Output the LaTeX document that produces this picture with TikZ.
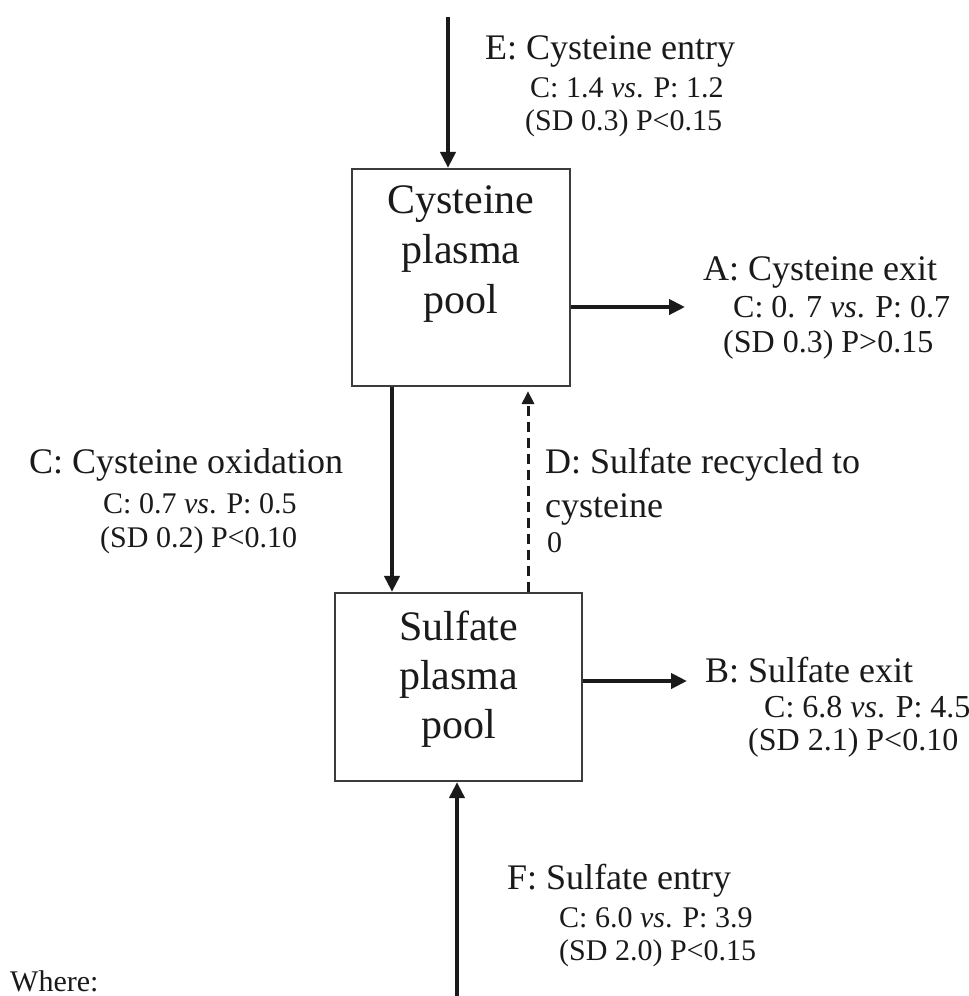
\documentclass[tikz,border=0pt]{standalone}
\usepackage{fontspec}
\setmainfont{Liberation Serif}
\usetikzlibrary{arrows.meta}
\definecolor{ink}{HTML}{1A1A1A}
\definecolor{rim}{HTML}{3C3C3C}
\begin{document}
\begin{tikzpicture}[x=1pt,y=-1pt,
  pool/.style={draw=rim, line width=2.2pt, fill=white, inner sep=0pt},
  pooltxt/.style={anchor=base, font=\fontsize{42}{50}\selectfont, text=ink, inner sep=0pt},
  head/.style={anchor=base west, font=\fontsize{36}{43}\selectfont, text=ink, inner sep=0pt},
  sub/.style={anchor=base west, font=\fontsize{30}{36}\selectfont, text=ink, inner sep=0pt},
  bigsub/.style={sub, font=\fontsize{32}{38}\selectfont},
  flow/.style={draw=ink, line width=4.5pt, -{Triangle[length=16pt,width=15pt]}},
  backflow/.style={draw=ink, line width=3pt, dash pattern=on 10pt off 6pt, -{Triangle[length=13pt,width=12pt]}}
]
\useasboundingbox (0,0) rectangle (969,996);

% the two plasma pools
\node[pool, minimum width=218pt, minimum height=217pt] (cys) at (461,277.5) {};
\node[pool, minimum width=247pt, minimum height=188pt] (sul) at (458.5,687) {};

\node[pooltxt] (cys1) at (461,213) {Cysteine};
\node[pooltxt] (cys2) at (461,263) {plasma};
\node[pooltxt] (cys3) at (461,313) {pool};
\node[pooltxt] (sul1) at (458.5,640) {Sulfate};
\node[pooltxt] (sul2) at (458.5,689) {plasma};
\node[pooltxt] (sul3) at (458.5,738) {pool};

% fluxes
\coordinate (etop) at (448,17);
\draw[flow] (etop) -- (etop |- cys.north);
\coordinate (aend) at (685,307);
\draw[flow] (cys.east |- aend) -- (aend);
\coordinate (cx) at (392,0);
\draw[flow] (cx |- cys.south) -- (cx |- sul.north);
\coordinate (dx) at (528,0);
\draw[backflow, shorten >=4pt] (dx |- sul.north) -- (dx |- cys.south);
\coordinate (bend) at (687,681);
\draw[flow] (sul.east |- bend) -- (bend);
\coordinate (fbot) at (457,996);
\draw[flow] (fbot) -- (fbot |- sul.south);

% E: entry
\node[head] (e1) at (485,59) {E: Cysteine entry};
\node[sub] (e2) at (530,97) {C: 1.4 \textit{vs}. P: 1.2};
\node[sub] (e3) at (525,130) {(SD 0.3) P<0.15};

% A: exit
\node[head] (a1) at (703,280) {A: Cysteine exit};
\node[bigsub] (a2) at (733,317) {C: 0. 7 \textit{vs}. P: 0.7};
\node[bigsub] (a3) at (723,352) {(SD 0.3) P>0.15};

% C: oxidation
\node[head] (c1) at (29,473) {C: Cysteine oxidation};
\node[sub] (c2) at (103,513) {C: 0.7 \textit{vs}. P: 0.5};
\node[sub] (c3) at (100,547) {(SD 0.2) P<0.10};

% D: recycling
\node[head] (d1) at (545,473) {D: Sulfate recycled to};
\node[head] (d2) at (545,517) {cysteine};
\node[sub] (d3) at (547,552) {0};

% B: exit
\node[head] (b1) at (705,682) {B: Sulfate exit};
\node[bigsub] (b2) at (764,717) {C: 6.8 \textit{vs}. P: 4.5};
\node[bigsub] (b3) at (748,750) {(SD 2.1) P<0.10};

% F: entry
\node[head] (f1) at (507,889) {F: Sulfate entry};
\node[sub] (f2) at (559,927) {C: 6.0 \textit{vs}. P: 3.9};
\node[sub] (f3) at (559,960) {(SD 2.0) P<0.15};

\node[sub] (where) at (10,991) {Where:};
\end{tikzpicture}
\end{document}
